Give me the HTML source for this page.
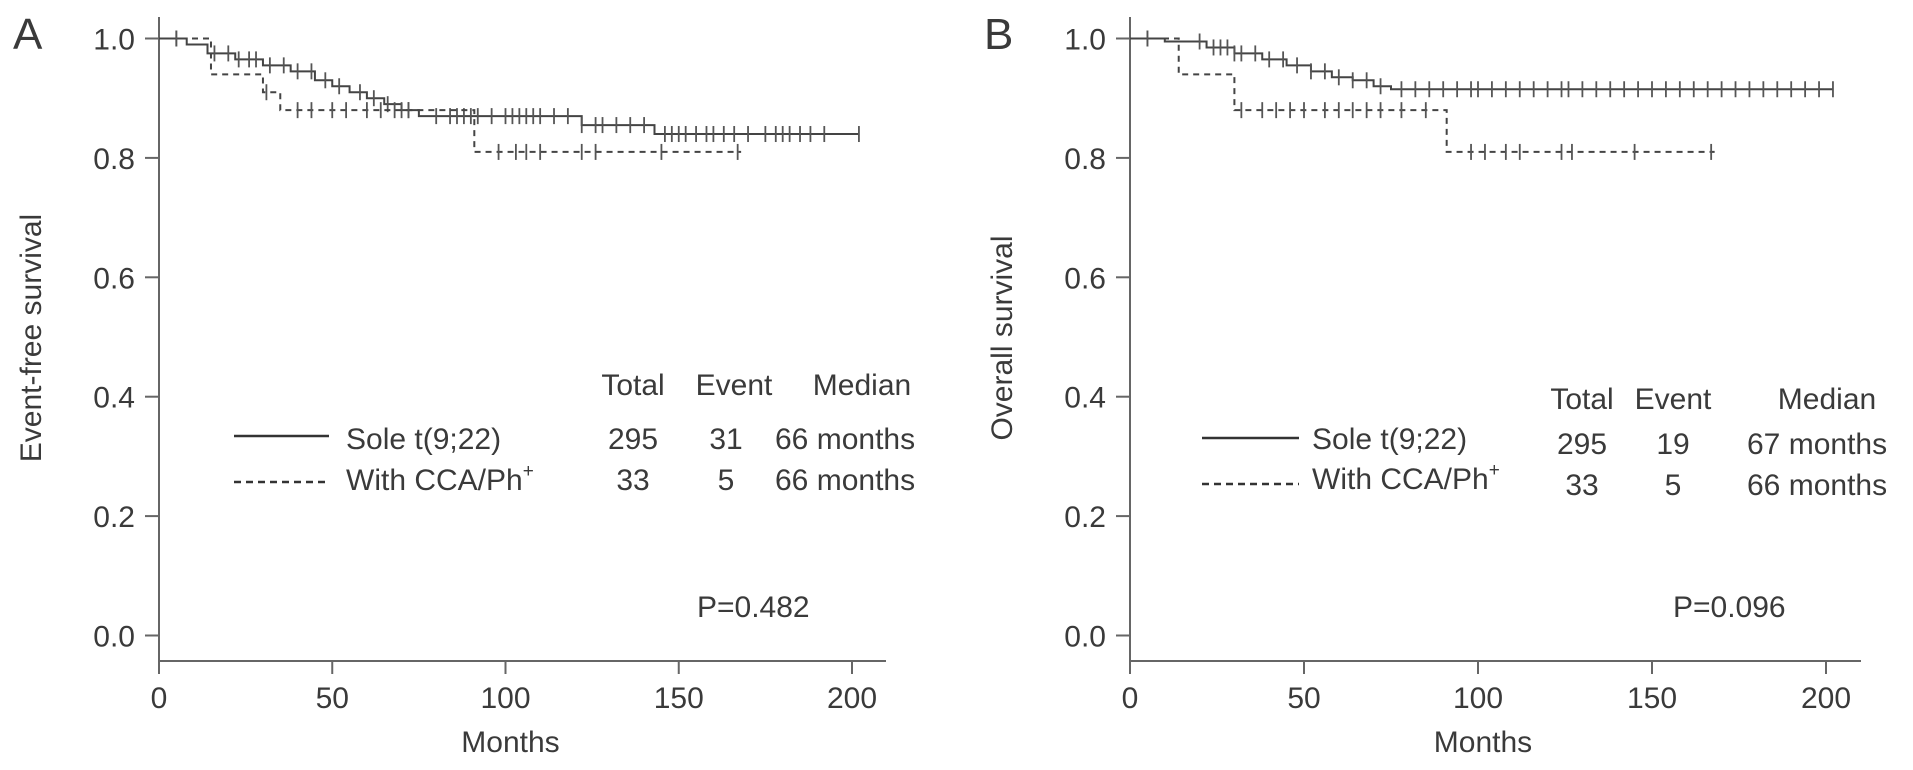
<!DOCTYPE html>
<html><head><meta charset="utf-8"><style>
body{margin:0;background:#fff}
svg text{font-family:"Liberation Sans",sans-serif;fill:#3a3a3a}
</style></head><body>
<svg width="1913" height="765" id="fig"></svg>
<script>
const xTicks=[0,50,100,150,200];
const yTicks=[0.0,0.2,0.4,0.6,0.8,1.0];
// Panel A step data: [time, survival after time]
const aSoleT=[0,8,14,22,30,38,45,50,55,60,65,70,75,122,143];
const aSoleS=[1.0,0.99,0.975,0.965,0.955,0.945,0.93,0.92,0.91,0.9,0.89,0.88,0.87,0.855,0.84];
const aSoleEnd=202;
const aSoleCens=[5,16,20,23,26,28,32,36,40,44,48,52,58,62,66,70,72,80,84,86,88,90,92,96,100,102,104,106,108,110,114,118,122,126,128,132,136,140,146,148,150,152,155,158,160,163,166,170,175,178,180,182,185,188,192,202];
const aCcaT=[0,15,30,35,91];
const aCcaS=[1.0,0.94,0.91,0.88,0.81];
const aCcaEnd=168;
const aCcaCens=[5,31,40,44,50,54,60,64,68,72,98,103,106,110,122,126,145,167];
// Panel B
const bSoleT=[0,10,22,30,38,45,52,58,64,70,75];
const bSoleS=[1.0,0.995,0.985,0.975,0.965,0.955,0.945,0.935,0.93,0.92,0.915];
const bSoleEnd=202;
const bSoleCens=[5,20,24,26,28,30,32,36,40,44,48,52,56,60,64,68,72,78,82,86,90,94,98,100,104,108,112,116,120,124,126,130,134,138,142,146,150,154,158,162,166,170,174,178,182,186,190,194,198,202];
const bCcaT=[0,14,30,91];
const bCcaS=[1.0,0.94,0.88,0.81];
const bCcaEnd=168;
const bCcaCens=[5,32,38,42,46,50,56,60,64,68,72,78,85,98,102,108,112,124,127,145,167];

const svg=document.getElementById('fig');const NS='http://www.w3.org/2000/svg';
function mk(t,a,p){const e=document.createElementNS(NS,t);for(const k in a)e.setAttribute(k,a[k]);(p||svg).appendChild(e);return e;}
function txt(s,x,y,sz,anchor,p){const e=mk('text',{x:x,y:y,'font-size':sz,'text-anchor':anchor||'start'},p);e.textContent=s;return e;}
function stepAt(T,S,t){let v=S[0];for(let i=0;i<T.length;i++)if(T[i]<=t)v=S[i];return v;}
const FS=30;
function panel(id,x0,x200,xEnd,yTitle,sole,cca,leg){
  const g=mk('g',{});
  
  
  const X=t=>x0+t*(x200-x0)/200, Y=s=>635.5-s*597;
  const ax=mk('path',{d:`M${x0} 17V661H${xEnd}`,stroke:'#666','stroke-width':2,fill:'none'},g);
  
  yTicks.forEach(v=>{mk('line',{x1:x0-14,x2:x0,y1:Y(v),y2:Y(v),stroke:'#666','stroke-width':2},g);
    const l=txt(v.toFixed(1),x0-24,Y(v)+11,FS,'end',g);});
  xTicks.forEach(v=>{mk('line',{x1:X(v),x2:X(v),y1:661,y2:674,stroke:'#666','stroke-width':2},g);
    const l=txt(String(v),X(v),708,FS,'middle',g);});
  const xt=txt('Months',(x0+x200)/2+5,752,FS,'middle',g);
  const yt=txt(yTitle,0,0,FS,'middle',g);yt.setAttribute('transform',`translate(${x0-118},338) rotate(-90)`);
  
  const pl=txt(id.toUpperCase(),x0-146,49,44,'start',g);
  [[sole,'none','sole'],[cca,'6,5','cca']].forEach(([d,dash,nm])=>{
    let p=`M${X(d.T[0])} ${Y(d.S[0])}`;
    for(let i=1;i<d.T.length;i++)p+=`H${X(d.T[i])}V${Y(d.S[i])}`;
    p+=`H${X(d.end)}`;
    const c=mk('path',{d:p,stroke:'#444','stroke-width':2,fill:'none','stroke-dasharray':dash},g);
    
    d.C.forEach(t=>{const yy=Y(stepAt(d.T,d.S,t));
      const m=mk('line',{x1:X(t),x2:X(t),y1:yy-8,y2:yy+8,stroke:'#555','stroke-width':1.8},g);
      });
  });
  const lg=mk('g',{},g);
  leg.hdr.forEach(h=>txt(h[0],h[1],h[2],FS,'middle',lg));
  leg.rows.forEach(r=>{
    mk('line',{x1:leg.lx1,x2:leg.lx2,y1:r.ly,y2:r.ly,stroke:'#333','stroke-width':2.5,'stroke-dasharray':r.dash},lg);
    const t=txt(r.label,leg.tx,r.ty,FS,'start',lg);
    if(r.sup){const s=mk('tspan',{'font-size':19,dy:-13},t);s.textContent='+';}
    r.vals.forEach(v=>txt(v[0],v[1],v[2],FS,v[3]||'middle',lg));
  });
  const pv=txt(leg.p[0],leg.p[1],617,FS,'start',g);
}
panel('a',159,852,886,'Event-free survival',
  {T:aSoleT,S:aSoleS,end:aSoleEnd,C:aSoleCens},{T:aCcaT,S:aCcaS,end:aCcaEnd,C:aCcaCens},
  {hdr:[['Total',633,395],['Event',734,395],['Median',862,395]],lx1:234,lx2:329,tx:346,
   rows:[{ly:436,ty:449,dash:'none',label:'Sole t(9;22)',vals:[['295',633,449],['31',726,449],['66 months',775,449,'start']]},
         {ly:482,ty:490,dash:'7,5',label:'With CCA/Ph',sup:1,vals:[['33',633,490],['5',726,490],['66 months',775,490,'start']]}],
   p:['P=0.482',697]});
panel('b',1130,1826,1861,'Overall survival',
  {T:bSoleT,S:bSoleS,end:bSoleEnd,C:bSoleCens},{T:bCcaT,S:bCcaS,end:bCcaEnd,C:bCcaCens},
  {hdr:[['Total',1582,409],['Event',1673,409],['Median',1827,409]],lx1:1202,lx2:1299,tx:1312,
   rows:[{ly:438,ty:449,dash:'none',label:'Sole t(9;22)',vals:[['295',1582,454],['19',1673,454],['67 months',1747,454,'start']]},
         {ly:484,ty:489,dash:'7,5',label:'With CCA/Ph',sup:1,vals:[['33',1582,495],['5',1673,495],['66 months',1747,495,'start']]}],
   p:['P=0.096',1673]});
</script>
</body></html>
